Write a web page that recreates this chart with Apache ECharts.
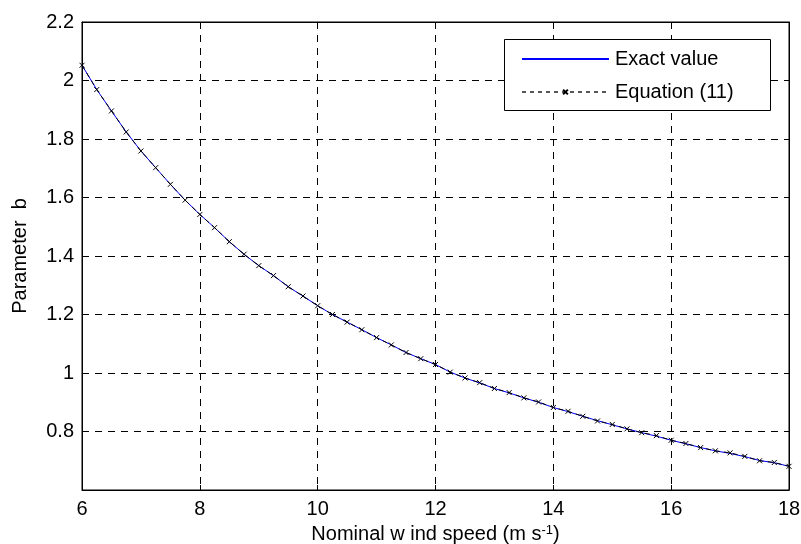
<!DOCTYPE html>
<html>
<head>
<meta charset="utf-8">
<script src="https://cdn.jsdelivr.net/npm/echarts@6/dist/echarts.min.js"></script>
<style>
html,body{margin:0;padding:0;background:#fff;}
#chart{width:801px;height:544px;}
</style>
</head>
<body>
<div id="chart"></div>
<script>
// Nominal wind speed (m/s)
var windSpeed = [6, 6.25, 6.5, 6.75, 7, 7.25, 7.5, 7.75, 8, 8.25, 8.5, 8.75, 9, 9.25, 9.5, 9.75,
  10, 10.25, 10.5, 10.75, 11, 11.25, 11.5, 11.75, 12, 12.25, 12.5, 12.75, 13, 13.25, 13.5, 13.75,
  14, 14.25, 14.5, 14.75, 15, 15.25, 15.5, 15.75, 16, 16.25, 16.5, 16.75, 17, 17.25, 17.5, 17.75, 18];
// Exact value of parameter b
var exactValue = [2.052, 1.969, 1.896, 1.824, 1.759, 1.702, 1.645, 1.591, 1.542, 1.497, 1.449, 1.406, 1.367, 1.333, 1.295, 1.263,
  1.230, 1.200, 1.174, 1.148, 1.121, 1.096, 1.070, 1.049, 1.029, 1.003, 0.983, 0.966, 0.947, 0.932, 0.915, 0.900,
  0.882, 0.868, 0.852, 0.837, 0.823, 0.809, 0.796, 0.784, 0.770, 0.758, 0.745, 0.734, 0.725, 0.714, 0.701, 0.693, 0.681];
// Equation (11) values
var equationValue = [2.052, 1.969, 1.896, 1.824, 1.759, 1.702, 1.645, 1.591, 1.542, 1.497, 1.449, 1.406, 1.367, 1.333, 1.295, 1.263,
  1.230, 1.200, 1.174, 1.148, 1.121, 1.096, 1.070, 1.049, 1.029, 1.003, 0.983, 0.967, 0.947, 0.933, 0.915, 0.901,
  0.882, 0.869, 0.852, 0.836, 0.824, 0.809, 0.796, 0.786, 0.770, 0.759, 0.745, 0.734, 0.727, 0.715, 0.700, 0.694, 0.681];
var xTicks = [6, 8, 10, 12, 14, 16, 18];
var yTicks = [0.8, 1, 1.2, 1.4, 1.6, 1.8, 2, 2.2];

var seriesNames = ['Exact value', 'Equation (11)'];

function pairs(xs, ys) { return xs.map(function (x, i) { return [x, ys[i]]; }); }

var FONT = 'Liberation Sans, Arial, sans-serif';
var FS = 20;
var chart = echarts.init(document.getElementById('chart'), null, { renderer: 'canvas' });

var gridDash = { color: '#000', width: 1, type: [7, 6] };

chart.setOption({
  animation: false,
  backgroundColor: '#fff',
  textStyle: { fontFamily: FONT },
  grid: { left: 82, right: 12, top: 22, bottom: 54, containLabel: false, outerBoundsMode: 'none', show: true, borderColor: '#000', borderWidth: 1, backgroundColor: 'transparent' },
  graphic: [{
    type: 'rect', z: 3, left: 504, top: 39,
    shape: { width: 266, height: 71 },
    style: { fill: '#fff', stroke: '#000', lineWidth: 1 }
  }],
  legend: {
    z: 6,
    orient: 'vertical',
    left: 504, top: 39,
    padding: [10, 10, 10, 17],
    itemWidth: 87, itemHeight: 6, itemGap: 13,
    textStyle: { fontFamily: FONT, fontSize: FS, color: '#000', padding: [0, 0, 0, 1] },
    data: [
      { name: seriesNames[0], itemStyle: { opacity: 0 } },
      { name: seriesNames[1], lineStyle: { color: '#555', type: [4, 4] } }
    ]
  },
  xAxis: [{
    type: 'value', min: 6, max: 18, interval: 2, position: 'bottom',
    name: 'Nominal w ind speed (m s{sup|-1})',
    nameLocation: 'middle', nameGap: 32,
    nameTextStyle: { fontFamily: FONT, fontSize: FS, color: '#000', rich: { sup: { fontSize: 13, verticalAlign: 'top', padding: [0, 0, 9, 0], color: '#000', fontFamily: FONT } } },
    axisLine: { show: true, lineStyle: { color: '#000' } },
    axisTick: { show: true, inside: true, length: 5, lineStyle: { color: '#000' } },
    axisLabel: { margin: 9, fontSize: FS, color: '#000', fontFamily: FONT },
    splitLine: { show: true, lineStyle: gridDash }
  }, {
    type: 'value', min: 6, max: 18, interval: 2, position: 'top',
    axisLine: { show: true, lineStyle: { color: '#000' } },
    axisTick: { show: true, inside: true, length: 5, lineStyle: { color: '#000' } },
    axisLabel: { show: false }, splitLine: { show: false }
  }],
  yAxis: [{
    type: 'value', min: 0.6, max: 2.2, interval: 0.2, position: 'left',
    name: 'Parameter  b', nameLocation: 'middle', nameGap: 52,
    nameTextStyle: { fontFamily: FONT, fontSize: FS, color: '#000' },
    axisLine: { show: true, lineStyle: { color: '#000' } },
    axisTick: { show: true, inside: true, length: 5, lineStyle: { color: '#000' } },
    axisLabel: {
      margin: 8, fontSize: FS, color: '#000', fontFamily: FONT,
      formatter: function (v) {
        var r = Math.round(v * 10) / 10;
        for (var i = 0; i < yTicks.length; i++) { if (Math.abs(yTicks[i] - r) < 1e-6) return String(yTicks[i]); }
        return '';
      }
    },
    splitLine: { show: true, lineStyle: gridDash }
  }, {
    type: 'value', min: 0.6, max: 2.2, interval: 0.2, position: 'right',
    axisLine: { show: true, lineStyle: { color: '#000' } },
    axisTick: { show: true, inside: true, length: 5, lineStyle: { color: '#000' } },
    axisLabel: { show: false }, splitLine: { show: false }
  }],
  series: [{
    name: seriesNames[0], type: 'line', xAxisIndex: 0, yAxisIndex: 0,
    data: pairs(windSpeed, exactValue),
    symbol: 'none', smooth: false, z: 2,
    lineStyle: { color: '#0000ff', width: 1 },
    itemStyle: { color: '#0000ff' }
  }, {
    name: seriesNames[1], type: 'line', xAxisIndex: 0, yAxisIndex: 0,
    data: pairs(windSpeed, equationValue),
    symbol: 'path://M0,0L10,10M10,0L0,10', symbolSize: 5, showAllSymbol: true, z: 3,
    lineStyle: { color: '#000', width: 1, type: [5, 4] },
    itemStyle: { color: '#000', borderColor: '#000', borderWidth: 1 }
  }]
});
</script>
</body>
</html>
